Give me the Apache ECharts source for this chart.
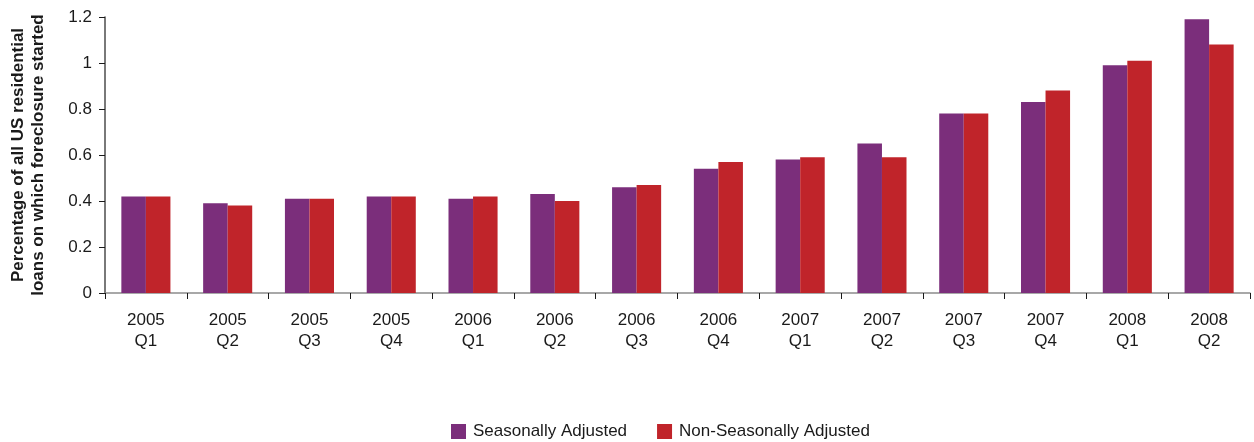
<!DOCTYPE html>
<html>
<head>
<meta charset="utf-8">
<script src="https://cdn.jsdelivr.net/npm/echarts@6/dist/echarts.min.js"></script>
<style>
  html, body { margin: 0; padding: 0; background: #ffffff; }
  #chart { width: 1254px; height: 442px; }
</style>
</head>
<body>
<div id="chart"></div>
<script>
// Quarterly foreclosure starts, percent of all US residential loans
const quarters = [
  '2005\nQ1', '2005\nQ2', '2005\nQ3', '2005\nQ4',
  '2006\nQ1', '2006\nQ2', '2006\nQ3', '2006\nQ4',
  '2007\nQ1', '2007\nQ2', '2007\nQ3', '2007\nQ4',
  '2008\nQ1', '2008\nQ2'
];
const seasonallyAdjusted = [0.42, 0.39, 0.41, 0.42, 0.41, 0.43, 0.46, 0.54, 0.58, 0.65, 0.78, 0.83, 0.99, 1.19];
const nonSeasonallyAdjusted = [0.42, 0.38, 0.41, 0.42, 0.42, 0.40, 0.47, 0.57, 0.59, 0.59, 0.78, 0.88, 1.01, 1.08];
const seriesNames = ['Seasonally Adjusted', 'Non-Seasonally Adjusted'];
const yAxisTitle = 'Percentage of all US residential\nloans on which foreclosure started';

const FONT = '"Liberation Sans", Arial, Helvetica, sans-serif';
const PURPLE = '#7b2e7b';
const RED = '#c0242a';

const chart = echarts.init(document.getElementById('chart'), null, { renderer: 'canvas' });

chart.setOption({
  animation: false,
  backgroundColor: '#ffffff',
  textStyle: { fontFamily: FONT },
  grid: { left: 104, right: 4, top: 17, bottom: 149, containLabel: false },
  legend: {
    left: 451,
    top: 423,
    padding: 0,
    itemWidth: 15,
    itemHeight: 15,
    itemGap: 30,
    icon: 'rect',
    data: seriesNames,
    textStyle: { fontFamily: FONT, fontSize: 17, color: '#1a1a1a', padding: [0, 0, 0, 2] }
  },
  xAxis: {
    type: 'category',
    data: quarters,
    axisLine: { show: true, lineStyle: { color: '#8c8c8c', width: 1.5 } },
    axisTick: { show: true, length: 6, lineStyle: { color: '#1a1a1a', width: 1 } },
    axisLabel: {
      margin: 17,
      fontFamily: FONT,
      fontSize: 17,
      lineHeight: 21,
      color: '#1a1a1a'
    },
    splitLine: { show: false }
  },
  yAxis: {
    type: 'value',
    min: 0,
    max: 1.2,
    interval: 0.2,
    name: yAxisTitle,
    nameLocation: 'middle',
    nameRotate: 90,
    nameGap: 57,
    nameTextStyle: {
      fontFamily: FONT,
      fontSize: 17,
      fontWeight: 'bold',
      lineHeight: 20,
      color: '#1a1a1a'
    },
    axisLine: { show: true, lineStyle: { color: '#4d4d4d', width: 1.5 } },
    axisTick: { show: true, length: 6, lineStyle: { color: '#1a1a1a', width: 1 } },
    axisLabel: {
      margin: 13,
      fontFamily: FONT,
      fontSize: 17,
      color: '#1a1a1a',
      formatter: function (v) { return String(Math.round(v * 10) / 10); }
    },
    splitLine: { show: false }
  },
  series: [
    {
      name: seriesNames[0],
      type: 'bar',
      data: seasonallyAdjusted,
      itemStyle: { color: PURPLE },
      barGap: '0%',
      barCategoryGap: '40%'
    },
    {
      name: seriesNames[1],
      type: 'bar',
      data: nonSeasonallyAdjusted,
      itemStyle: { color: RED },
      barGap: '0%',
      barCategoryGap: '40%'
    }
  ]
});
</script>
</body>
</html>
